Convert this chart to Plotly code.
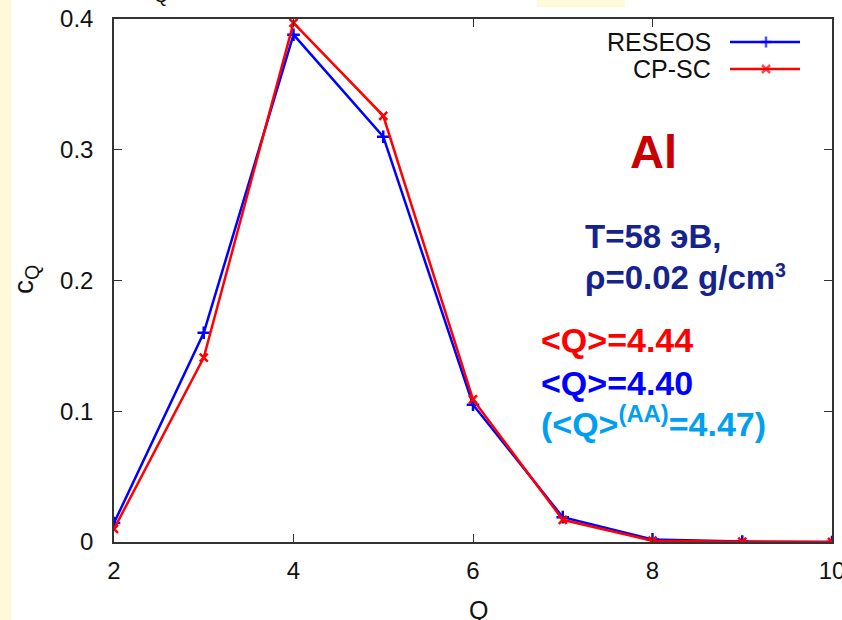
import plotly.graph_objects as go

# ---- data ----
charge_states = [2, 3, 4, 5, 6, 7, 8, 9, 10]
reseos_cq = [0.0145, 0.160, 0.388, 0.310, 0.105, 0.019, 0.002, 0.0003, 0.0]
cpsc_cq = [0.010, 0.141, 0.397, 0.326, 0.109, 0.017, 0.001, 0.0002, 0.0]
x_ticks = [2, 4, 6, 8, 10]
y_ticks = [0, 0.1, 0.2, 0.3, 0.4]
series_names = ["RESEOS", "CP-SC"]

W, H = 842, 620
L, R, T, B = 114, 10, 19, 78
pw, ph = W - L - R, H - T - B


def px(xp):
    return (xp - L) / pw


def py(yp):
    return (H - B - yp) / ph


FONT = "Liberation Sans, Arial, sans-serif"

fig = go.Figure()
fig.add_trace(go.Scatter(
    x=charge_states, y=reseos_cq, mode="lines+markers", name=series_names[0],
    line=dict(color="#0000FF", width=2.5),
    marker=dict(symbol="cross-thin", size=9, line=dict(color="#0000FF", width=2.5)),
    showlegend=False))
fig.add_trace(go.Scatter(
    x=charge_states, y=cpsc_cq, mode="lines+markers", name=series_names[1],
    line=dict(color="#FF0000", width=2.5),
    marker=dict(symbol="x-thin", size=8, line=dict(color="#FF0000", width=2.5)),
    showlegend=False))

# legend samples on an overlay axis (paper-like 0..1)
leg_y = [py(42), py(69)]
x0, xm, x1 = px(730), px(766), px(800)
for name, col, sym, ly in [(series_names[0], "#0000FF", "cross-thin", leg_y[0]),
                           (series_names[1], "#FF0000", "x-thin", leg_y[1])]:
    fig.add_trace(go.Scatter(
        x=[x0, xm, x1], y=[ly, ly, ly], xaxis="x2", yaxis="y2",
        mode="lines+markers", line=dict(color=col, width=2.5),
        marker=dict(symbol=sym, size=[0, 8, 0], line=dict(color=col, width=2.5)),
        showlegend=False, hoverinfo="skip"))

axis_common = dict(
    showline=True, linecolor="#333333", linewidth=1.5, mirror="allticks",
    ticks="inside", ticklen=8, tickwidth=1.2, tickcolor="#333333",
    showgrid=False, zeroline=False, ticklabeloverflow="allow",
    tickfont=dict(family=FONT, size=24, color="#111111"),
)

annotations = [
    dict(text="RESEOS", x=px(713), y=leg_y[0], xanchor="right", yanchor="middle",
         font=dict(size=25, color="#111111")),
    dict(text="CP-SC", x=px(713), y=leg_y[1], xanchor="right", yanchor="middle",
         font=dict(size=25, color="#111111")),
    dict(text="<b>Al</b>", x=px(653), y=py(152), xanchor="center", yanchor="middle",
         font=dict(size=47, color="#C80000")),
    dict(text="<b>T=58 эВ,</b>", x=px(583), y=py(236), xanchor="left", yanchor="middle",
         font=dict(size=33, color="#15238C")),
    dict(text="<b>ρ=0.02 g/cm<span style='font-size:28px'><sup>3</sup></span></b>",
         x=px(583), y=py(277), xanchor="left",
         yanchor="middle", font=dict(size=33, color="#15238C")),
    dict(text="<b>&lt;Q&gt;=4.44</b>", x=px(539), y=py(340), xanchor="left",
         yanchor="middle", font=dict(size=34, color="#FF0000")),
    dict(text="<b>&lt;Q&gt;=4.40</b>", x=px(539), y=py(383), xanchor="left",
         yanchor="middle", font=dict(size=34, color="#0000FF")),
    dict(text="<b>(&lt;Q&gt;<sup>(AA)</sup>=4.47)</b>", x=px(539), y=py(421),
         xanchor="left", yanchor="middle", font=dict(size=34, color="#00A0F0")),
    dict(text="c<sub>Q</sub>", x=px(25), y=py(280), textangle=-90, xanchor="center",
         yanchor="middle", font=dict(size=28, color="#111111")),
    dict(text="Q", x=px(478), y=py(610), xanchor="center", yanchor="middle",
         font=dict(size=25, color="#111111")),
    dict(text="Q", x=px(161), y=py(8), xanchor="center", yanchor="bottom",
         font=dict(size=18, color="#111111")),
]
for a in annotations:
    a.update(xref="paper", yref="paper", showarrow=False)
    a["font"].setdefault("family", FONT)

shapes = [
    dict(type="rect", xref="paper", yref="paper", x0=px(0), x1=px(11), y0=py(H), y1=py(0),
         fillcolor="#FDF9D9", line=dict(width=0), layer="below"),
    dict(type="rect", xref="paper", yref="paper", x0=px(537), x1=px(625), y0=py(7), y1=py(0),
         fillcolor="#FDF9D9", line=dict(width=0), layer="below"),
]

fig.update_layout(
    width=W, height=H,
    margin=dict(l=L, r=R, t=T, b=B, autoexpand=False),
    paper_bgcolor="white", plot_bgcolor="white",
    font=dict(family=FONT, color="#111111"),
    xaxis=dict(range=[2, 10], tickvals=x_ticks, ticktext=[str(v) for v in x_ticks],
               ticklabelstandoff=6, **axis_common),
    yaxis=dict(range=[0, 0.4], tickvals=y_ticks,
               ticktext=["0" if v == 0 else f"{v:.1f}" for v in y_ticks],
               ticklabelstandoff=14, **axis_common),
    xaxis2=dict(range=[0, 1], overlaying="x", visible=False, fixedrange=True),
    yaxis2=dict(range=[0, 1], overlaying="y", visible=False, fixedrange=True),
    annotations=annotations, shapes=shapes, showlegend=False,
)

fig.write_html("out.html")
